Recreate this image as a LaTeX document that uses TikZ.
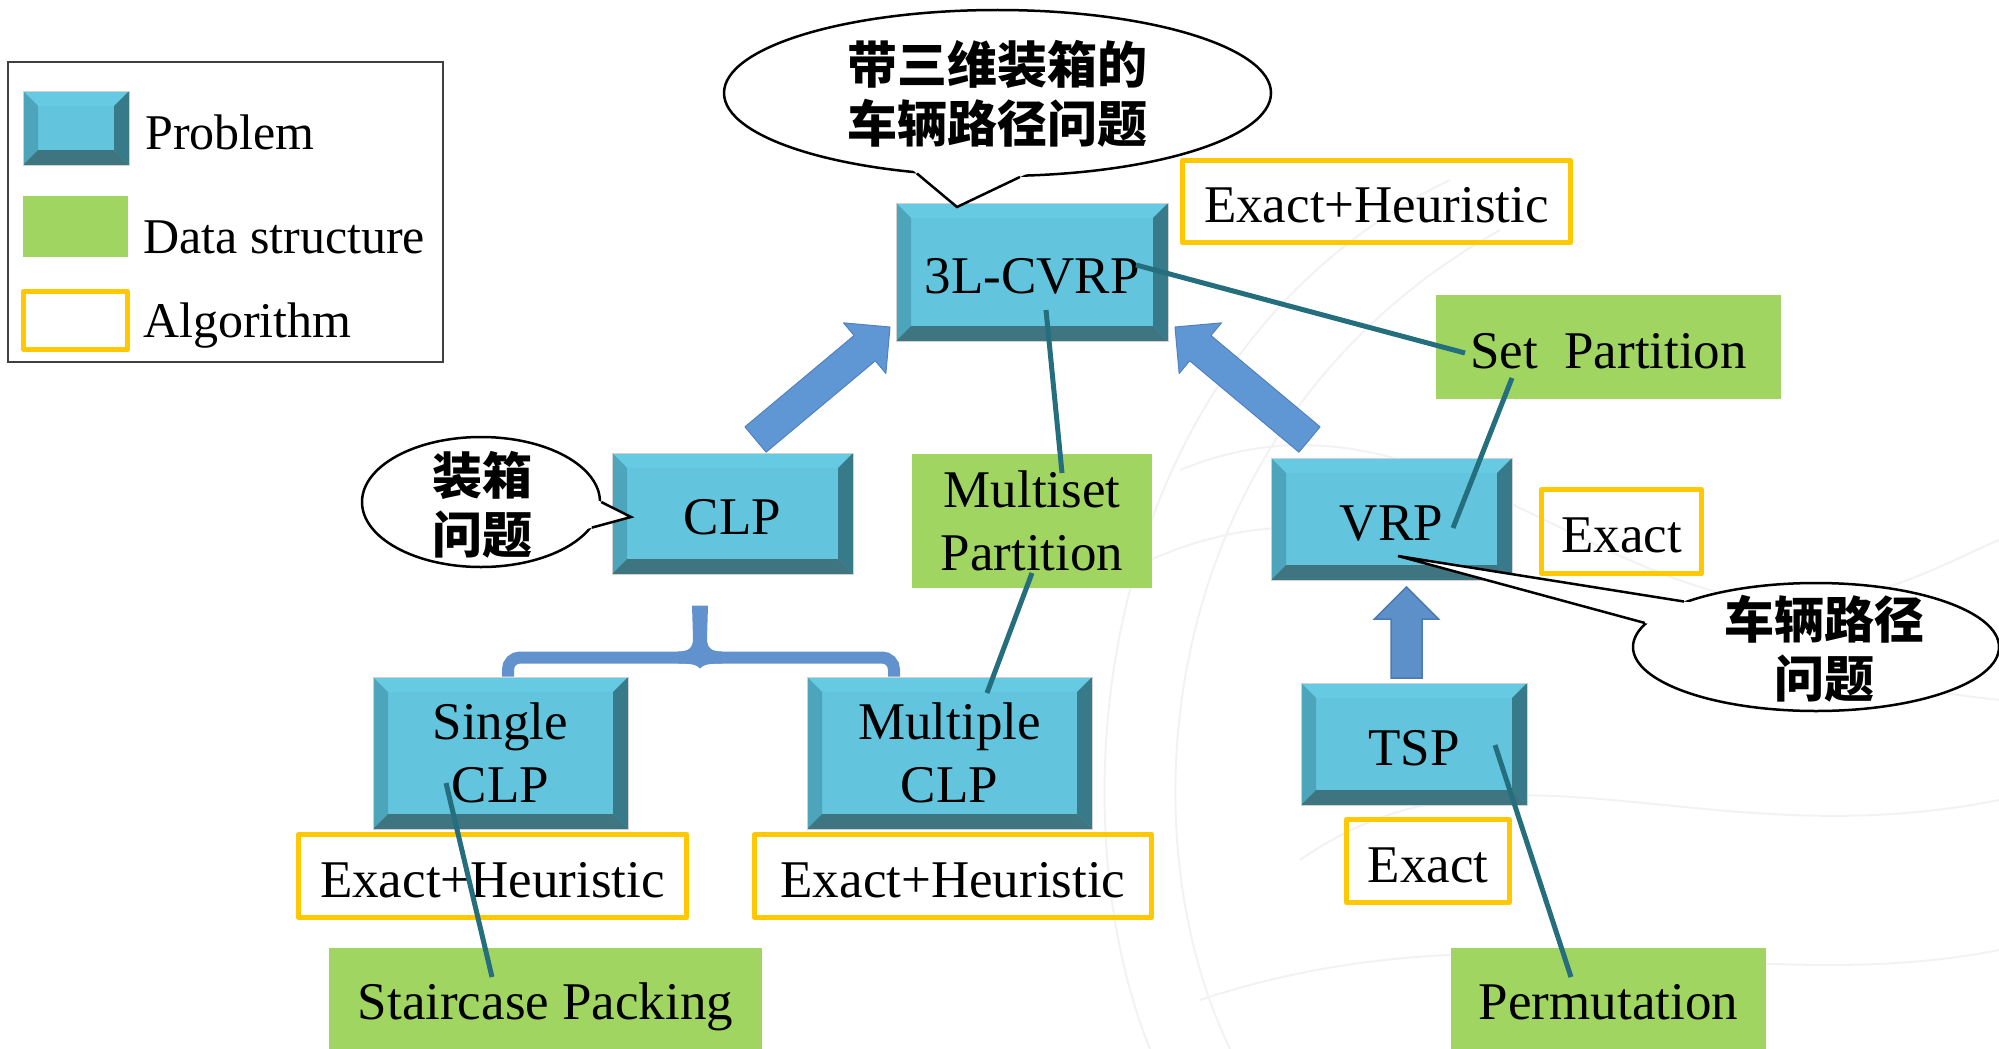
\documentclass[tikz,border=0pt]{standalone}
\usepackage{fontspec}
\setmainfont{Liberation Serif}
\newfontfamily\cjk{Noto Sans CJK SC}
\usetikzlibrary{calc,shapes.geometric}

\definecolor{pface}{RGB}{98,197,221}
\definecolor{ptop}{RGB}{102,202,226}
\definecolor{pleft}{RGB}{76,165,186}
\definecolor{pright}{RGB}{55,122,138}
\definecolor{pbottom}{RGB}{63,117,128}
\definecolor{dsgreen}{RGB}{161,213,98}
\definecolor{algyellow}{RGB}{255,200,0}
\definecolor{linkteal}{RGB}{36,110,126}
\definecolor{arrblue}{RGB}{95,150,212}
\definecolor{arredge}{RGB}{82,130,190}
\definecolor{upblue}{RGB}{93,143,200}
\definecolor{upedge}{RGB}{77,122,175}
\definecolor{braceblue}{RGB}{98,146,205}

\newcommand\bevw{15pt}
\newcommand\mainfs{\fontsize{53}{63}\selectfont}
\newcommand\legfs{\fontsize{50}{60}\selectfont}
\newcommand\cjkfs{\cjk\bfseries\fontsize{50}{59}\selectfont}

\newcommand\blockarrow[6]{%
  \path (#1) coordinate (ba@t) (#2) coordinate (ba@p);
  \path ($(ba@p)!#5!(ba@t)$) coordinate (ba@h);
  \filldraw[#6] ($(ba@t)!#3!90:(ba@p)$) -- ($(ba@h)!#3!90:(ba@p)$) -- ($(ba@h)!#4!90:(ba@p)$) -- (ba@p) -- ($(ba@h)!#4!-90:(ba@p)$) -- ($(ba@h)!#3!-90:(ba@p)$) -- ($(ba@t)!#3!-90:(ba@p)$) -- cycle;
}

\tikzset{
  probbox/.style={fill=pface, draw=black!18, line width=1pt, inner sep=0pt, font=\mainfs,
    path picture={
      \path (path picture bounding box.north west) coordinate (pb@nw)
            (path picture bounding box.north east) coordinate (pb@ne)
            (path picture bounding box.south west) coordinate (pb@sw)
            (path picture bounding box.south east) coordinate (pb@se);
      \fill[ptop] (pb@nw) -- (pb@ne) -- ([xshift=-\bevw,yshift=-\bevw]pb@ne) -- ([xshift=\bevw,yshift=-\bevw]pb@nw) -- cycle;
      \fill[pleft] (pb@nw) -- (pb@sw) -- ([xshift=\bevw,yshift=\bevw]pb@sw) -- ([xshift=\bevw,yshift=-\bevw]pb@nw) -- cycle;
      \fill[pright] (pb@ne) -- (pb@se) -- ([xshift=-\bevw,yshift=\bevw]pb@se) -- ([xshift=-\bevw,yshift=-\bevw]pb@ne) -- cycle;
      \fill[pbottom] (pb@sw) -- (pb@se) -- ([xshift=-\bevw,yshift=\bevw]pb@se) -- ([xshift=\bevw,yshift=\bevw]pb@sw) -- cycle;
    }},
  dsbox/.style={fill=dsgreen, inner sep=0pt, font=\mainfs},
  algbox/.style={draw=algyellow, line width=5pt, line join=round, inner sep=0pt, font=\mainfs},
  oneline/.style={text height=42pt, text depth=0pt},
  legtext/.style={font=\legfs, anchor=base west, inner sep=0pt},
  link/.style={draw=linkteal, line width=5pt},
  bigarrow/.style={fill=arrblue, draw=arredge, line width=1pt, line join=round},
  uparrow/.style={fill=upblue, draw=upedge, line width=1.5pt},
  bracepath/.style={draw=braceblue, line width=12pt, rounded corners=12pt},
  bubble/.style={ellipse, draw=black, fill=white, line width=2.5pt, inner sep=0pt},
  cline/.style={draw=black, line width=2.5pt},
  cjktext/.style={font=\cjkfs, align=center, inner sep=0pt},
  faint/.style={draw=black!5, line width=2pt}
}

\begin{document}
\begin{tikzpicture}[x=1pt,y=-1pt]
\useasboundingbox (0,0) rectangle (1999,1049);

% faint background texture
\draw[faint] (1150,1049) .. controls (1050,800) and (1100,350) .. (1450,180);
\draw[faint] (1230,1049) .. controls (1120,820) and (1160,420) .. (1500,230);
\draw[faint] (1180,470) .. controls (1400,380) and (1550,560) .. (1750,600) .. controls (1850,620) and (1950,560) .. (1999,540);
\draw[faint] (1150,560) .. controls (1400,450) and (1550,650) .. (1999,700);
\draw[faint] (1300,860) .. controls (1500,720) and (1700,860) .. (1999,800);
\draw[faint] (1200,1000) .. controls (1500,900) and (1750,1000) .. (1999,950);

% legend
\node[draw=black!75, line width=1.5pt, minimum width=435pt, minimum height=300pt, inner sep=0pt] (legend) at (225.5,212) {};
\node[probbox, minimum width=106pt, minimum height=74pt] (legP) at (76,128) {};
\node[legtext] (legPt) at (145,149) {Problem};
\node[dsbox, minimum width=105pt, minimum height=61pt] (legD) at (75.5,226.5) {};
\node[legtext] (legDt) at (143,253) {Data structure};
\node[algbox, minimum width=104pt, minimum height=58pt] (legA) at (75.5,320.5) {};
\node[legtext] (legAt) at (143,337) {Algorithm};

% problem boxes
\node[probbox, oneline, minimum width=272pt, minimum height=138pt] (cvrp) at (1032,272) {3L-CVRP};
\node[probbox, oneline, minimum width=241pt, minimum height=121pt] (clp) at (732.5,513.5) {CLP};
\node[probbox, oneline, minimum width=241pt, minimum height=122pt] (vrp) at (1391.5,519) {VRP};
\node[probbox, align=center, minimum width=255pt, minimum height=152pt] (single) at (500.5,753) {\raisebox{-3pt}{Single}\\\raisebox{-3pt}{CLP}};
\node[probbox, align=center, minimum width=285pt, minimum height=152pt] (multiple) at (949.5,753) {\raisebox{-3pt}{Multiple}\\\raisebox{-3pt}{CLP}};
\node[probbox, oneline, minimum width=226pt, minimum height=122pt] (tsp) at (1414,744) {TSP};

% data structures
\node[dsbox, oneline, minimum width=345pt, minimum height=104pt] (setpart) at (1608.5,347) {Set\ \ Partition};
\node[dsbox, align=center, minimum width=240pt, minimum height=134pt] (multiset) at (1032,521) {\raisebox{-3pt}{Multiset}\\\raisebox{-3pt}{Partition}};
\node[dsbox, oneline, minimum width=433pt, minimum height=101pt] (stair) at (545.5,998.5) {Staircase Packing};
\node[dsbox, oneline, minimum width=315pt, minimum height=101pt] (perm) at (1608.5,998.5) {Permutation};

% algorithms
\node[algbox, oneline, minimum width=388pt, minimum height=82pt] (ehtop) at (1376.5,201.5) {Exact+Heuristic};
\node[algbox, oneline, minimum width=160pt, minimum height=84pt] (exvrp) at (1621.5,531.5) {Exact};
\node[algbox, oneline, minimum width=388pt, minimum height=83pt] (ehsingle) at (492.5,876) {Exact+Heuristic};
\node[algbox, oneline, minimum width=397pt, minimum height=83pt] (ehmulti) at (953,876) {Exact+Heuristic};
\node[algbox, oneline, minimum width=163pt, minimum height=83pt] (extsp) at (1428,861) {Exact};

% block arrows
\blockarrow{$(clp.center)+(23,-74)$}{$(cvrp.center)+(-142,55)$}{16.5pt}{33pt}{33pt}{bigarrow}
\blockarrow{$(vrp.center)+(-82,-79.5)$}{$(cvrp.center)+(143,55)$}{16.5pt}{33pt}{33pt}{bigarrow}
\blockarrow{$(tsp.center)+(-7.5,-66)$}{$(vrp.center)+(15,68)$}{15.5pt}{32pt}{32pt}{uparrow}

% brace under CLP
\coordinate (brmid) at ($(clp.south)+(-32.5,83)$);
\draw[bracepath] ($(single.north)+(7.5,0)$) |- (brmid) -| ($(multiple.north)+(-55.5,0)$);
\begin{scope}[shift={(brmid)}]
\fill[braceblue] (-8,-52) -- (8,-52) -- (7,-19) .. controls (7,-9) and (12,-6) .. (22,-6) -- (22,6)
  .. controls (10,6) and (3,7) .. (0,11) .. controls (-3,7) and (-10,6) .. (-22,6) -- (-22,-6)
  .. controls (-12,-6) and (-7,-9) .. (-7,-19) -- cycle;
\end{scope}

% connectors
\draw[link] ($(cvrp.center)+(104,-7)$) -- ($(setpart.center)+(-143.5,6)$);
\draw[link] ($(cvrp.center)+(14,38)$) -- ($(multiset.center)+(30,-48)$);
\draw[link] ($(setpart.center)+(-96.5,31)$) -- ($(vrp.center)+(61.5,9)$);
\draw[link] ($(multiset.center)+(0,52)$) -- ($(multiple.center)+(37.5,-60)$);
\draw[link] ($(single.center)+(-54.5,30)$) -- ($(stair.center)+(-53.5,-21.5)$);
\draw[link] ($(tsp.center)+(81,1)$) -- ($(perm.center)+(-37.5,-21.5)$);

% callout: 3L-CVRP
\node[bubble, minimum width=547pt, minimum height=166pt] (bigc) at (997.5,93) {};
\coordinate (bigtip) at ($(cvrp.center)+(-75,-65)$);
\fill[white] ($(bigtip)!1.15!(bigc.225)$) -- (bigtip) -- ($(bigtip)!1.15!(bigc.285)$) -- cycle;
\draw[cline] (bigc.225) -- (bigtip) -- (bigc.285);
\node[cjktext] (bigct) at ($(bigc.center)+(0,1)$) {带三维装箱的\\车辆路径问题};

% callout: CLP
\node[bubble, minimum width=238pt, minimum height=130pt] (clpc) at (481,502) {};
\coordinate (clptip) at ($(clp.center)+(-101.5,3.5)$);
\fill[white] ($(clptip)!1.15!(clpc.0)$) -- (clptip) -- ($(clptip)!1.15!(clpc.347)$) -- cycle;
\draw[cline] (clpc.0) -- (clptip) -- (clpc.347);
\node[cjktext] (clpct) at ($(clpc.center)+(1,2.5)$) {装箱\\问题};

% callout: VRP
\node[bubble, minimum width=366pt, minimum height=128pt] (vrpc) at (1816,647) {};
\coordinate (vrptip) at ($(vrp.center)+(6.5,37)$);
\fill[white] ($(vrptip)!1.1!(vrpc.161)$) -- (vrptip) -- ($(vrptip)!1.1!(vrpc.172)$) -- cycle;
\draw[cline] (vrpc.161) -- (vrptip) -- (vrpc.172);
\node[cjktext] (vrpct) at ($(vrpc.center)+(8,1.5)$) {车辆路径\\问题};

\end{tikzpicture}
\end{document}
